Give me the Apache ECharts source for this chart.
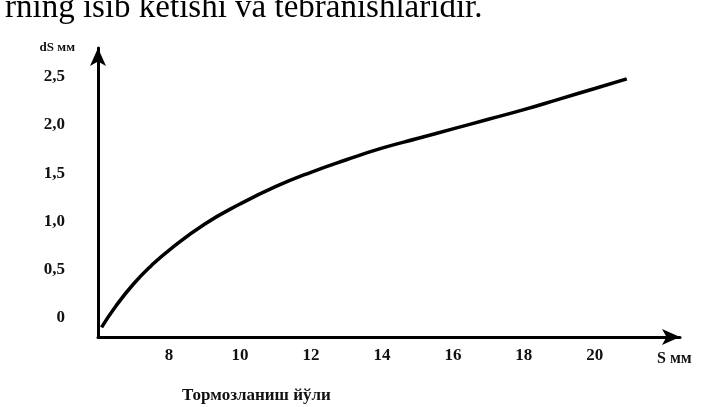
<!DOCTYPE html>
<html>
<head>
<meta charset="utf-8">
<script src="https://cdn.jsdelivr.net/npm/echarts@6/dist/echarts.min.js"></script>
<style>
  html, body { margin: 0; padding: 0; background: #fff; }
  #chart { width: 706px; height: 407px; }
</style>
</head>
<body>
<div id="chart"></div>
<script>
// Data
const sValues  = [6.1, 6.5, 7.0, 7.5, 8.0, 9.0, 10.0, 11.0, 12.0, 13.0, 14.0, 15.0, 16.0, 17.0, 18.0, 19.0, 20.0, 20.9];
const dsValues = [-0.1, 0.12, 0.35, 0.54, 0.70, 0.97, 1.18, 1.36, 1.51, 1.64, 1.76, 1.86, 1.96, 2.06, 2.16, 2.27, 2.38, 2.48];
const xTickLabels = [8, 10, 12, 14, 16, 18, 20];
const yTickLabels = [0, 0.5, 1.0, 1.5, 2.0, 2.5];
const xAxisTitle = 'S мм';
const yAxisTitle = 'dS мм';
const xCaption = 'Тормозланиш йўли';
const topText = 'rning isib ketishi va tebranishlaridir.';

const points = sValues.map((s, i) => [s, dsValues[i]]);
const serif = '"Liberation Serif", "DejaVu Serif", serif';

const chart = echarts.init(document.getElementById('chart'), null, { renderer: 'canvas' });
chart.setOption({
  animation: false,
  backgroundColor: '#fff',
  title: [
    { text: topText, left: 0, top: -13,
      textStyle: { fontFamily: serif, fontSize: 33, fontWeight: 'normal', color: '#000' } },
    { text: xCaption, left: 177, top: 382,
      textStyle: { fontFamily: serif, fontSize: 17, fontWeight: 'bold', color: '#111' } },
    { text: xAxisTitle, left: 652, top: 346,
      textStyle: { fontFamily: serif, fontSize: 16, fontWeight: 'bold', color: '#111' } }
  ],
  grid: { left: 98, right: 26, top: 48, bottom: 70, containLabel: false },
  xAxis: {
    type: 'value', min: 6, max: 22.4, interval: 2,
    axisLine: { show: true, onZero: false, symbol: ['none', 'arrow'], symbolSize: [12, 18],
      lineStyle: { color: '#000', width: 3 } },
    axisTick: { show: false },
    splitLine: { show: false },
    axisLabel: {
      margin: 10, fontFamily: serif, fontSize: 17, fontWeight: 'bold', color: '#111',
      formatter: v => xTickLabels.some(t => Math.abs(t - v) < 1e-6) ? String(Math.round(v)) : ''
    }
  },
  yAxis: {
    type: 'value', min: -0.2, max: 2.8, interval: 0.1,
    name: yAxisTitle, nameLocation: 'end', nameGap: 0,
    nameTextStyle: { fontFamily: serif, fontSize: 13, fontWeight: 'bold', color: '#111',
      align: 'right', verticalAlign: 'middle', padding: [0, 23, 0, 0] },
    axisLine: { show: true, onZero: false, symbol: ['none', 'arrow'], symbolSize: [12, 18],
      lineStyle: { color: '#000', width: 3 } },
    axisTick: { show: false },
    splitLine: { show: false },
    axisLabel: {
      margin: 33, fontFamily: serif, fontSize: 17, fontWeight: 'bold', color: '#111',
      formatter: v => {
        const t = yTickLabels.find(t => Math.abs(t - v) < 1e-6);
        if (t === undefined) return '';
        return t === 0 ? '0' : t.toFixed(1).replace('.', ',');
      }
    }
  },
  series: [{
    type: 'line', data: points, smooth: 0.5, showSymbol: false,
    lineStyle: { color: '#000', width: 3.5 }
  }]
});
</script>
</body>
</html>
